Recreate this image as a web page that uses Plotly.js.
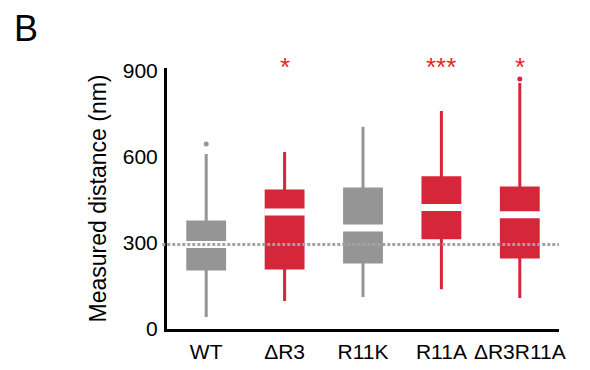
<!DOCTYPE html>
<html>
<head>
<meta charset="utf-8">
<script src="https://cdn.plot.ly/plotly-3.0.1.min.js"></script>
<style>html,body{margin:0;padding:0;background:#fff;}#chart{width:590px;height:370px;}</style>
</head>
<body>
<div id="chart"></div>
<script>
var categories = ["WT", "\u0394R3", "R11K", "R11A", "\u0394R3R11A"];
var lowerWhisker = [42, 98, 112, 139, 108];
var q1 = [209, 213, 234, 318, 251];
var median = [295, 408, 352, 424, 398];
var q3 = [373, 481, 488, 527, 492];
var upperWhisker = [610, 617, 705, 760, 858];
var outlierCats = ["WT", "\u0394R3R11A"];
var outlierVals = [645, 872];
var significance = ["", "*", "", "***", "*"];
var referenceLine = 295;
var groupColor = ["gray", "red", "gray", "red", "red"];

var COLORS = {gray: "#959595", red: "#d6263a"};
var FONT = "Liberation Sans, Arial, sans-serif";

var W = 590, H = 370, ML = 167, MR = 31, MT = 68, MB = 41;
var PW = W - ML - MR, PH = H - MT - MB;

var traces = [];
categories.forEach(function (c, i) {
  var col = COLORS[groupColor[i]];
  traces.push({
    type: "box",
    x: [c],
    q1: [q1[i]], median: [median[i]], q3: [q3[i]],
    lowerfence: [lowerWhisker[i]], upperfence: [upperWhisker[i]],
    fillcolor: col,
    line: {color: col, width: 3},
    whiskerwidth: 0,
    width: 0.47,
    boxpoints: false,
    hoverinfo: "skip",
    showlegend: false
  });
});
traces.push({
  type: "scatter", mode: "markers",
  x: categories, y: median,
  marker: {symbol: "line-ew-open", size: 29, color: "#ffffff", line: {color: "#ffffff", width: 7}},
  hoverinfo: "skip", showlegend: false, cliponaxis: false
});
traces.push({
  type: "scatter", mode: "markers",
  x: outlierCats, y: outlierVals,
  marker: {symbol: "circle", size: 5,
    color: outlierCats.map(function (c) { return COLORS[groupColor[categories.indexOf(c)]]; })},
  hoverinfo: "skip", showlegend: false, cliponaxis: false
});

var annotations = [];
categories.forEach(function (c, i) {
  if (significance[i]) {
    annotations.push({
      x: c, xref: "x", yref: "paper", y: 1 + (MT - 50) / PH,
      text: significance[i], showarrow: false,
      font: {family: FONT, size: 26, color: "#e8242e"},
      yanchor: "top"
    });
  }
});
annotations.push({
  xref: "paper", yref: "paper",
  x: (12 - ML) / PW, y: 1 + (MT - 6) / PH,
  xanchor: "left", yanchor: "top",
  text: "B", showarrow: false, font: {family: FONT, size: 36, color: "#000"}
});

var layout = {
  width: W, height: H,
  margin: {l: ML, r: MR, t: MT, b: MB},
  paper_bgcolor: "#fff", plot_bgcolor: "#fff",
  font: {family: FONT, color: "#000"},
  xaxis: {
    type: "category", categoryarray: categories, range: [-0.5, 4.5],
    showline: true, linecolor: "#000", linewidth: 3,
    showgrid: false, zeroline: false, ticks: "",
    tickfont: {family: FONT, size: 21, color: "#000"},
    ticklabelstandoff: 2
  },
  yaxis: {
    range: [0, 910], tickvals: [0, 300, 600, 900],
    showline: true, linecolor: "#000", linewidth: 3,
    showgrid: false, zeroline: false, ticks: "",
    tickfont: {family: FONT, size: 21, color: "#000"},
    ticklabelstandoff: 2,
    title: {text: "Measured distance (nm)", font: {family: FONT, size: 23, color: "#000"}, standoff: 10}
  },
  shapes: [{
    type: "line", xref: "paper", yref: "y",
    x0: -0.012, x1: 1, y0: referenceLine, y1: referenceLine,
    line: {color: "#a3a3a3", width: 3, dash: "3px,2px"},
    layer: "above"
  }],
  annotations: annotations
};

Plotly.newPlot("chart", traces, layout, {staticPlot: true});
</script>
</body>
</html>
